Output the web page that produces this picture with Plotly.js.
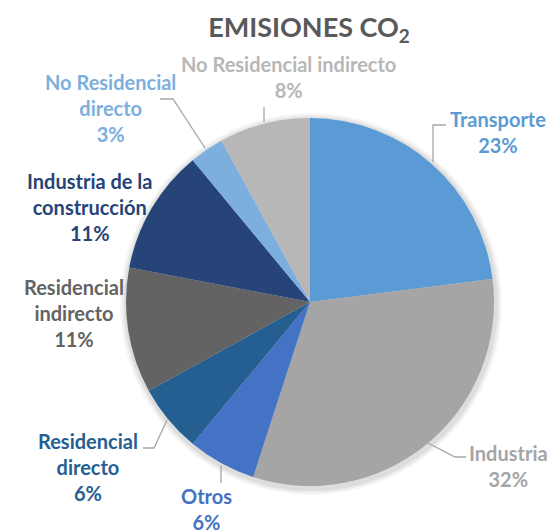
<!DOCTYPE html>
<html>
<head>
<meta charset="utf-8">
<script src="https://cdn.plot.ly/plotly-3.0.1.min.js"></script>
<style>html,body{margin:0;padding:0;background:#fff;}#chart{width:553px;height:530px;}</style>
</head>
<body>
<div id="chart"></div>
<script>
// ---- data ----
const labels = ["Transporte", "Industria", "Otros", "Residencial directo", "Residencial indirecto",
                "Industria de la construcción", "No Residencial directo", "No Residencial indirecto"];
const labelLines = ["Transporte", "Industria", "Otros", "Residencial<br>directo", "Residencial<br>indirecto",
                    "Industria de la<br>construcción", "No Residencial<br>directo", "No Residencial indirecto"];
const values = [23, 32, 6, 6, 11, 11, 3, 8];
const sliceColors = ["#5B9BD5", "#A5A5A5", "#4472C4", "#255E91", "#636363", "#264478", "#7CAFDD", "#B7B7B7"];
const titleText = "EMISIONES CO<sub>2</sub>";

// ---- layout helpers (pixel -> paper) ----
const W = 553, H = 530;
const px = x => x / W;
const py = y => 1 - y / H;
const cx = 310, cy = 302, R = 184;

// label text block centres (pixels)
const labelPos = [[498, 132], [508, 466], [206, 509], [88, 467], [74, 313], [89, 207], [110, 108], [288, 77]];

const annotations = labels.map((l, i) => ({
  text: labelLines[i] + "<br>" + values[i] + "%",
  x: px(labelPos[i][0]), y: py(labelPos[i][1]),
  xref: "paper", yref: "paper", xanchor: "center", yanchor: "middle",
  showarrow: false, align: "center",
  font: {family: "Lato, 'Open Sans', sans-serif", size: 20, color: sliceColors[i], weight: 700}
}));

function pathOf(pts) {
  return pts.map((p, k) => (k ? "L" : "M") + px(p[0]).toFixed(5) + "," + py(p[1]).toFixed(5)).join(" ");
}
const leaders = [
  [[433, 162], [433, 125], [446, 125]],
  [[428, 443], [455, 457], [466, 457]],
  [[221, 465], [221, 483]],
  [[167, 420], [154, 448], [143, 448]],
  [[160, 99], [173, 99], [205, 148]],
  [[264, 107], [264, 122]]
];
const shapes = [];
// soft shadow behind the pie
[[7, 0.035], [5, 0.045], [3, 0.06]].forEach(([d, a]) => {
  shapes.push({type: "circle", xref: "paper", yref: "paper", layer: "below",
    x0: px(cx - R - d + 1), x1: px(cx + R + d + 1), y0: py(cy + R + d + 2), y1: py(cy - R - d + 2),
    fillcolor: "rgba(0,0,0," + a + ")", line: {width: 0}});
});
leaders.forEach(pts => shapes.push({type: "path", xref: "paper", yref: "paper", path: pathOf(pts),
  line: {color: "#A6A6A6", width: 1.3}}));

const trace = {
  type: "pie",
  labels: labels,
  values: values,
  sort: false,
  direction: "clockwise",
  rotation: 0,
  textinfo: "none",
  hoverinfo: "label+percent",
  marker: {colors: sliceColors, line: {color: "#ffffff", width: 0}},
  domain: {x: [px(cx - R), px(cx + R)], y: [py(cy + R), py(cy - R)]},
  showlegend: false
};

const layout = {
  width: W, height: H,
  margin: {l: 0, r: 0, t: 0, b: 0},
  paper_bgcolor: "#ffffff",
  showlegend: false,
  title: {text: titleText, x: px(309), xanchor: "center", y: py(28), yanchor: "middle",
          xref: "paper", yref: "paper",
          font: {family: "Lato, 'Open Sans', sans-serif", size: 27, color: "#595959", weight: 700}},
  annotations: annotations,
  shapes: shapes
};

Plotly.newPlot("chart", [trace], layout, {displayModeBar: false, staticPlot: true});
</script>
</body>
</html>
